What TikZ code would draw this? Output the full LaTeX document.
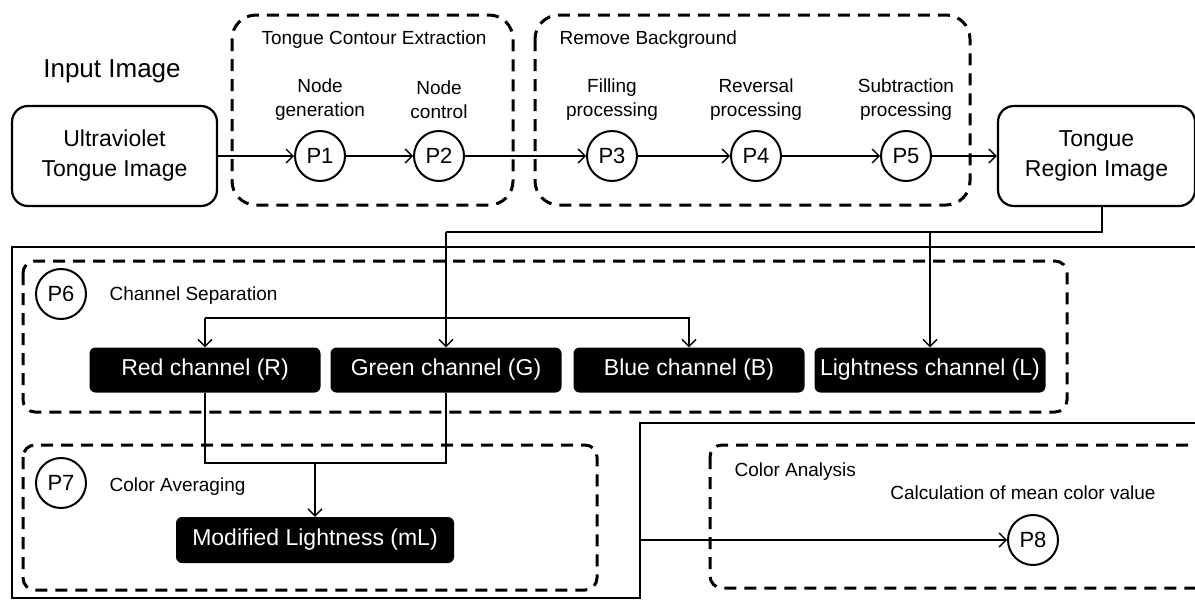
\documentclass[tikz,border=0pt]{standalone}
\usepackage{fontspec}
\setmainfont{Liberation Sans}
\usetikzlibrary{arrows.meta}
\begin{document}
\begin{tikzpicture}[x=1pt,y=-1pt,
  conn/.style={line width=1.4pt,-{Straight Barb[length=7pt,width=14pt,line width=1.4pt]}},
  wire/.style={line width=1.4pt},
  group/.style={line width=3pt,dash pattern=on 12pt off 8pt,rounded corners=24pt},
  proc/.style={circle,draw,line width=2pt,minimum size=50pt,inner sep=0pt,
    font=\fontsize{22}{22}\selectfont},
  iobox/.style={draw,line width=2.2pt,rounded corners=16pt,align=center,
    minimum height=100pt,font=\fontsize{23}{30}\selectfont},
  chan/.style={fill=black,rounded corners=6pt,text=white,minimum width=231pt,
    minimum height=45pt,inner sep=0pt,font=\fontsize{23}{23}\selectfont},
  steptext/.style={align=center,font=\fontsize{19}{24}\selectfont},
  grp/.style={font=\fontsize{19}{22}\selectfont}]
\useasboundingbox (0,0) rectangle (1195,600);

% ---------- upper row: contour extraction and background removal ----------
\node[font=\fontsize{26}{30}\selectfont] (input) at (112,71) {Input Image};
\node[iobox,minimum width=205pt] (uv) at (114.5,156) {Ultraviolet\\Tongue Image};
\node[iobox,minimum width=197pt] (tri) at (1096.5,156) {Tongue\\Region Image};

\draw[group] (232,15) rectangle (513,205);
\draw[group] (535,15) rectangle (970,205);
\node[grp] (tce) at (374,40) {Tongue Contour Extraction};
\node[grp,anchor=west] (rbg) at (556,40) {Remove Background};

\node[proc] (p1) at (320,156) {P1};
\node[proc] (p2) at (439,156) {P2};
\node[proc] (p3) at (612,156) {P3};
\node[proc] (p4) at (756,156) {P4};
\node[proc] (p5) at (906,156) {P5};
\node[steptext] (c1) at (320,100) {Node\\generation};
\node[steptext] (c2) at (439,100) {Node\\control};
\node[steptext] (c3) at (612,100) {Filling\\processing};
\node[steptext] (c4) at (756,100) {Reversal\\processing};
\node[steptext] (c5) at (906,100) {Subtraction\\processing};

\draw[conn] (uv) -- (p1);
\draw[conn] (p1) -- (p2);
\draw[conn] (p2) -- (p3);
\draw[conn] (p3) -- (p4);
\draw[conn] (p4) -- (p5);
\draw[conn] (p5) -- (tri);

% ---------- lower frame ----------
\draw[wire] (1195,247) -- (12,247) -- (12,598) -- (640,598) -- (640,423) -- (1195,423);

% ---------- channel separation ----------
\draw[group,rounded corners=12pt] (23,261) rectangle (1067,412);
\node[proc] (p6) at (61,294) {P6};
\node[grp,anchor=west] (cs) at (106,296) {Channel Separation};
\node[chan] (red) at (205,370) {Red channel (R)};
\node[chan] (green) at (446,370) {Green channel (G)};
\node[chan] (blue) at (689,370) {Blue channel (B)};
\node[chan] (light) at (930,370) {Lightness channel (L)};

\coordinate (t0) at (1102,232);
\coordinate (tg) at (446,232);
\coordinate (tl) at (930,232);
\coordinate (sr) at (205,318);
\coordinate (sb) at (689,318);
\draw[wire] (tri.south -| t0) -- (t0) -- (tg);
\draw[conn] (tg) -- (green.north);
\draw[conn] (tl) -- (light.north);
\draw[conn] (sr) -- (red.north);
\draw[conn] (sr) -- (sb) -- (blue.north);

% ---------- colour averaging ----------
\draw[group,rounded corners=12pt] (23,445) rectangle (597,590);
\node[proc] (p7) at (61,483) {P7};
\node[grp,anchor=west] (ca) at (106,487) {Color Averaging};
\node[chan,minimum width=278pt,minimum height=46pt] (ml) at (315,540) {Modified Lightness (mL)};
\coordinate (jr) at (205,463);
\coordinate (jg) at (446,463);
\coordinate (jm) at (315,463);
\draw[wire] (red.south) -- (jr) -- (jg) -- (green.south);
\draw[conn] (jm) -- (ml.north);

% ---------- colour analysis ----------
\draw[group,rounded corners=12pt] (710,445) rectangle (1220,588);
\node[grp,anchor=west] (can) at (731,472) {Color Analysis};
\node[steptext] (c8) at (1023,493) {Calculation of mean color value};
\node[proc] (p8) at (1033,540) {P8};
\coordinate (a0) at (640,540);
\draw[conn] (a0) -- (p8);
\end{tikzpicture}
\end{document}
